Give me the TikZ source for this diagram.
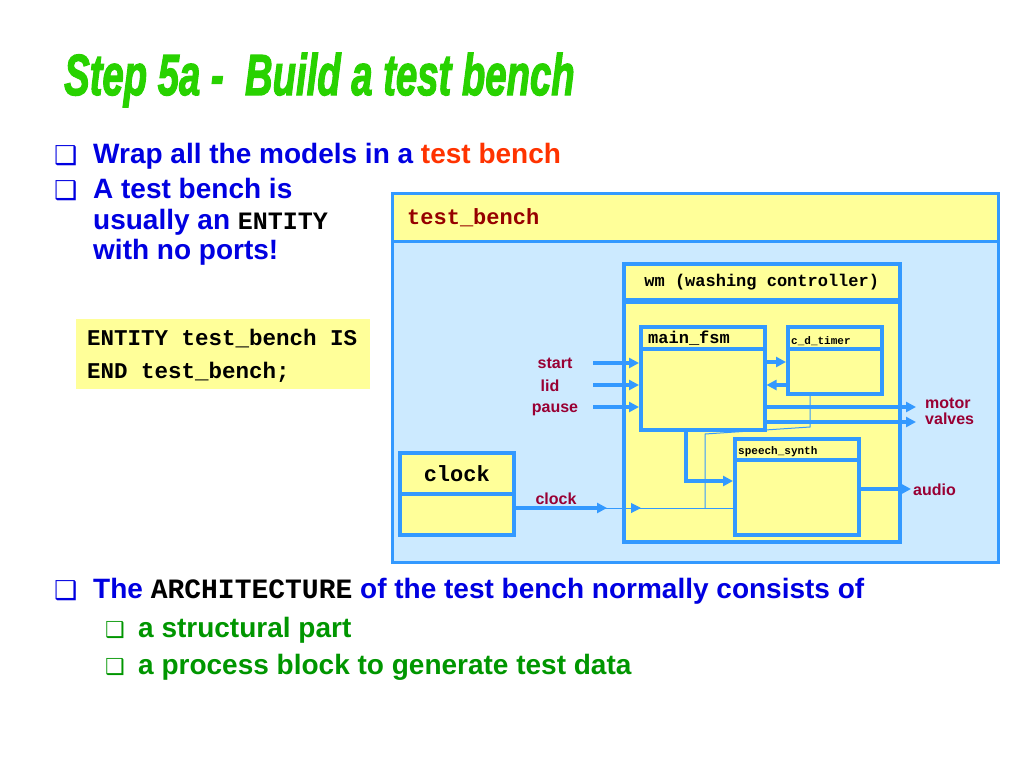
\documentclass[tikz,border=0pt]{standalone}
\usepackage{graphicx}
\usepackage{fontspec}
\setmainfont{Liberation Sans}
\setmonofont{Liberation Mono}
\newfontfamily\boxfont{DejaVu Sans}
\newfontfamily\titlefont[BoldItalicFeatures={FakeBold=2.5}]{Liberation Sans}
\usetikzlibrary{arrows.meta}
\definecolor{wmblue}{RGB}{51,153,255}
\definecolor{wmyellow}{RGB}{255,255,153}
\definecolor{wmsky}{RGB}{204,234,255}
\definecolor{wmred}{RGB}{153,0,51}
\definecolor{tbred}{RGB}{150,0,0}
\definecolor{txtblue}{RGB}{0,0,225}
\definecolor{txtgreen}{RGB}{0,150,0}
\definecolor{ttlgreen}{RGB}{40,210,0}
\definecolor{hotred}{RGB}{255,51,0}
\tikzset{
  blk/.style={draw=wmblue, line width=3.5, fill=wmyellow, anchor=north west, inner sep=0},
  lbl/.style={anchor=west, inner sep=0, font=\ttfamily\bfseries},
  sig/.style={draw=wmblue, line width=3.5, -{Triangle[length=10,width=10]}},
  wire/.style={draw=wmblue, line width=1},
  port/.style={text=wmred, inner sep=0, font=\bfseries\fontsize{16}{16}\selectfont},
  bul/.style={anchor=base west, inner sep=0},
  btxt/.style={bul, font=\bfseries\fontsize{28}{28}\selectfont},
}
\begin{document}
\begin{tikzpicture}[x=1pt, y=-1pt]
  \fill[white] (0,0) rectangle (1024,768);
  \useasboundingbox (0,0) rectangle (1024,768);

  % title and bullets
  \node[bul, text=ttlgreen, font=\titlefont\bfseries\itshape\fontsize{58}{58}\selectfont]
    (title) at (64,95) {\scalebox{0.66}[1]{Step 5a -\ \ Build a test bench}};
  \node[bul, text=txtblue, font=\boxfont\fontsize{26}{26}\selectfont] (b1) at (54,164) {❑};
  \node[btxt, text=txtblue] (t1) at (93,163)
    {Wrap all the models in a \textcolor{hotred}{test bench}};
  \node[bul, text=txtblue, font=\boxfont\fontsize{26}{26}\selectfont] (b2) at (54,199) {❑};
  \node[btxt, text=txtblue] (t2) at (93,198) {A test bench is};
  \node[btxt, text=txtblue] (t2b) at (93,229)
    {usually an \textcolor{black}{\ttfamily\fontsize{25}{25}\selectfont ENTITY}};
  \node[btxt, text=txtblue] (t2c) at (93,259) {with no ports!};
  \node[bul, text=txtblue, font=\boxfont\fontsize{26}{26}\selectfont] (b3) at (54,599) {❑};
  \node[btxt, text=txtblue] (t3) at (93,598)
    {The \textcolor{black}{\ttfamily\fontsize{28}{28}\selectfont ARCHITECTURE} of the test bench normally consists of};
  \node[bul, text=txtgreen, font=\boxfont\fontsize{22}{22}\selectfont] (b4) at (105,637) {❑};
  \node[btxt, text=txtgreen] (t4) at (138,637) {a structural part};
  \node[bul, text=txtgreen, font=\boxfont\fontsize{22}{22}\selectfont] (b5) at (105,674) {❑};
  \node[btxt, text=txtgreen] (t5) at (138,674)
    {a process block to generate test data};

  % entity code
  \node[fill=wmyellow, anchor=north west, minimum width=294, minimum height=70] (code) at (76,319) {};
  \node[bul, font=\ttfamily\bfseries\fontsize{22.5}{22.5}\selectfont] (c1) at (87,345) {ENTITY test\_bench IS};
  \node[bul, font=\ttfamily\bfseries\fontsize{22.5}{22.5}\selectfont] (c2) at (87,378) {END test\_bench;};

  % test bench
  \node[blk, line width=3, minimum width=606, minimum height=48] (tbh) at (391,192) {};
  \node[blk, line width=3, fill=wmsky, minimum width=606, minimum height=321] (tbb) at (391,240) {};
  \node[lbl, text=tbred, font=\ttfamily\bfseries\fontsize{22}{22}\selectfont] (tbt) at ([xshift=16]tbh.west) {test\_bench};

  % washing controller
  \node[blk, minimum width=276, minimum height=36, font=\ttfamily\bfseries\fontsize{17}{17}\selectfont]
    (wmh) at (622,262) {wm (washing controller)};
  \node[blk, minimum width=276, minimum height=240] (wmb) at (622,300) {};

  \node[blk, minimum width=124, minimum height=22] (fsmh) at (639,325) {};
  \node[blk, minimum width=124, minimum height=81] (fsmb) at (639,347) {};
  \node[lbl, font=\ttfamily\bfseries\fontsize{17}{17}\selectfont] (fsmt) at ([xshift=9]fsmh.west) {main\_fsm};

  \node[blk, minimum width=94, minimum height=22] (timh) at (786,325) {};
  \node[blk, minimum width=94, minimum height=45] (timb) at (786,347) {};
  \node[lbl, font=\ttfamily\bfseries\fontsize{11}{11}\selectfont] (timt) at ([xshift=5,yshift=-3]timh.west) {c\_d\_timer};

  \node[blk, minimum width=124, minimum height=21] (sph) at (733,437) {};
  \node[blk, minimum width=124, minimum height=75] (spb) at (733,458) {};
  \node[lbl, font=\ttfamily\bfseries\fontsize{11}{11}\selectfont] (spt) at ([xshift=5,yshift=-2]sph.west) {speech\_synth};

  % clock
  \node[blk, minimum width=114, minimum height=41, font=\ttfamily\bfseries\fontsize{22}{22}\selectfont]
    (ckh) at (398,451) {clock};
  \node[blk, minimum width=114, minimum height=41] (ckb) at (398,492) {};

  % ports
  \coordinate (inS) at (593,363);
  \coordinate (inL) at (593,385);
  \coordinate (inP) at (593,407);
  \coordinate (yA) at (0,362);
  \coordinate (yB) at (0,385);
  \coordinate (motor) at (916,407);
  \coordinate (valves) at (916,422);
  \coordinate (kink) at (686,481);
  \coordinate (audio) at (911,489);
  \coordinate (ck) at (0,508);
  \coordinate (ckend) at (607,508);
  \coordinate (ckin) at (641,508);
  \coordinate (tap) at (810,427);
  \coordinate (tapb) at (705,434);
  \coordinate (tapc) at (705,508);

  \node[port] (pS) at (555,363) {start};
  \node[port] (pL) at (550,386) {lid};
  \node[port] (pP) at (555,410) {pause};
  \node[port] (pC) at (556,499) {clock};
  \node[port, anchor=west] (pM) at (925,403) {motor};
  \node[port, anchor=west] (pV) at (925,419) {valves};
  \node[port, anchor=west] (pA) at (913,490) {audio};

  \draw[sig] (inS) -- (inS -| fsmb.west);
  \draw[sig] (inL) -- (inL -| fsmb.west);
  \draw[sig] (inP) -- (inP -| fsmb.west);
  \draw[sig] (fsmb.east |- yA) -- (timb.west |- yA);
  \draw[sig] (timb.west |- yB) -- (fsmb.east |- yB);
  \draw[sig] (fsmb.east |- motor) -- (motor);
  \draw[sig] (fsmb.east |- valves) -- (valves);
  \draw[sig] (fsmb.south -| kink) |- (spb.west |- kink);
  \draw[sig] (spb.east |- audio) -- (audio);

  \draw[wire] (ckb.east |- ck) -- (spb.west |- ck);
  \draw[sig] (ckb.east |- ck) -- (ckend);
  \draw[wire, -{Triangle[length=10,width=10]}] (wmb.west |- ck) -- (ckin);
  \draw[wire] (timb.south -| tap) -- (tap) -- (tapb) -- (tapc);
\end{tikzpicture}
\end{document}
